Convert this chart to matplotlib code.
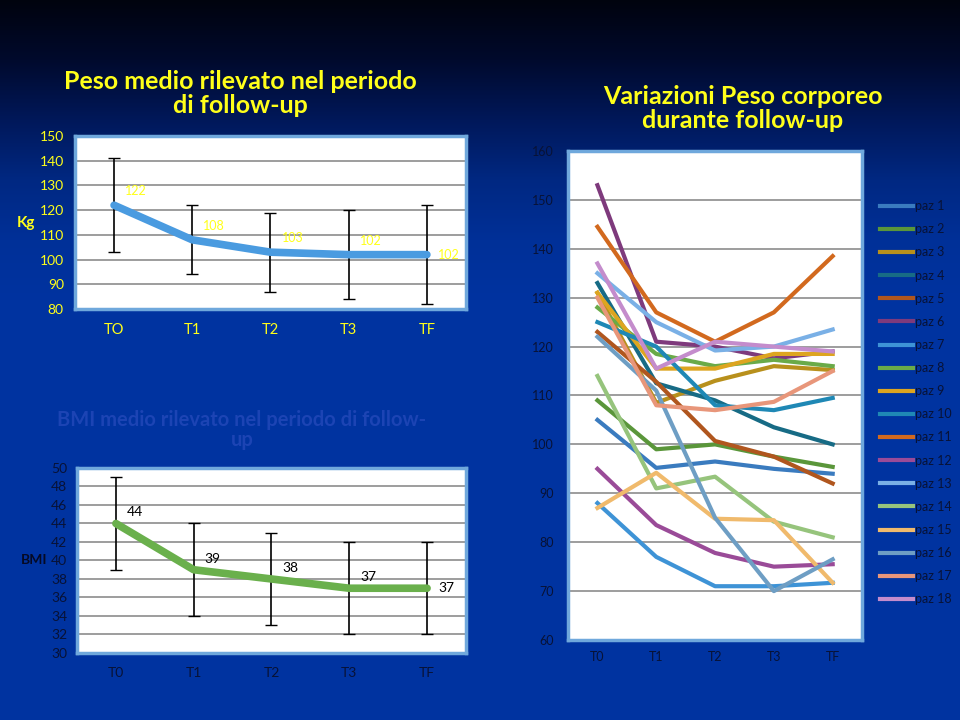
import numpy as np
import matplotlib.pyplot as plt

plt.rcParams['font.family'] = ['Lato', 'DejaVu Sans']

# ---- data ----
tempi_peso = ['TO', 'T1', 'T2', 'T3', 'TF']
tempi = ['T0', 'T1', 'T2', 'T3', 'TF']

peso_medio = [122, 108, 103, 102, 102]
peso_ds = [19, 14, 16, 18, 20]

bmi_medio = [44, 39, 38, 37, 37]
bmi_ds = [5, 5, 5, 5, 5]

paz_1 = [105, 95.2, 96.5, 95, 94]
paz_2 = [109, 99, 100, 97.5, 95.4]
paz_3 = [131, 108.5, 113, 116, 115.2]
paz_4 = [133, 112.5, 109, 103.5, 100]
paz_5 = [123, 112.8, 100.7, 97.5, 92]
paz_6 = [153, 121, 120, 117.6, 119]
paz_7 = [88, 77, 71, 71, 71.7]
paz_8 = [128, 118.5, 116, 117.3, 116]
paz_9 = [131, 115.5, 115.5, 118.5, 118.5]
paz_10 = [125, 120, 108, 107, 109.5]
paz_11 = [144.5, 127, 121, 127, 138.5]
paz_12 = [95, 83.5, 77.8, 75, 75.5]
paz_13 = [135, 125, 119.2, 120, 123.5]
paz_14 = [114, 91, 93.4, 84.2, 81]
paz_15 = [87, 94.2, 84.8, 84.5, 71.7]
paz_16 = [122, 111, 85, 70, 76.5]
paz_17 = [130, 108, 107, 108.7, 115]
paz_18 = [137, 115.5, 121, 120, 119]

pazienti = [paz_1, paz_2, paz_3, paz_4, paz_5, paz_6, paz_7, paz_8, paz_9,
            paz_10, paz_11, paz_12, paz_13, paz_14, paz_15, paz_16, paz_17, paz_18]
nomi = ['paz %d' % (i + 1) for i in range(len(pazienti))]
colori = ['#3A7BBF', '#5A963A', '#B8901C', '#176B85', '#B0561E', '#7E3A7C',
          '#3E93D6', '#6AAA48', '#DDA520', '#1F88B5', '#D2691E', '#9A4B98',
          '#7AB0E6', '#96C47C', '#F0BA6C', '#6E9EC4', '#E8967A', '#C48CCC']

YELLOW = '#FFFF1A'
NAVY = '#081236'
BORDER = '#6FA8DC'

fig = plt.figure(figsize=(9.6, 7.2), dpi=100)

# background gradient
bg = fig.add_axes([0, 0, 1, 1], zorder=-10)
yy = np.arange(720)
stops = [0, 60, 120, 180, 240, 300, 720]
rgb = np.stack([np.interp(yy, stops, [0, 0, 0, 0, 0, 0, 0]),
                np.interp(yy, stops, [3, 10, 24, 40, 48, 51, 51]),
                np.interp(yy, stops, [14, 45, 90, 130, 152, 160, 160])], axis=1) / 255.0
bg.imshow(rgb[:, None, :], aspect='auto', extent=[0, 1, 0, 1])
bg.axis('off')


def style_axes(ax, tick_color):
    ax.set_facecolor('white')
    for s in ax.spines.values():
        s.set_color(BORDER)
        s.set_linewidth(2.5)
    ax.tick_params(length=0, colors=tick_color, labelsize=10)
    ax.yaxis.grid(True, color='#8C8C8C', lw=1.2)
    ax.set_axisbelow(True)


# ---- peso medio ----
ax1 = fig.add_axes([0.0781, 0.5708, 0.4073, 0.2403])
style_axes(ax1, YELLOW)
x = np.arange(len(tempi_peso))
ax1.errorbar(x, peso_medio, yerr=peso_ds, fmt='none', ecolor='black', elinewidth=1.2, capsize=4)
ax1.plot(x, peso_medio, color='#4A9BE0', lw=5.5, solid_capstyle='round')
for i, v in enumerate(peso_medio):
    off = (8, 0) if i == len(peso_medio) - 1 else (8, 10)
    ax1.annotate(str(v), (x[i], v), xytext=off, textcoords='offset points',
                 color=YELLOW, fontsize=9, va='center', ha='left')
ax1.set_xlim(-0.5, 4.5)
ax1.set_ylim(80, 150)
ax1.set_yticks(range(80, 151, 10))
ax1.set_xticks(x)
ax1.set_xticklabels(tempi_peso, fontsize=10.5)
ax1.tick_params(axis='x', pad=10)
ax1.tick_params(axis='y', pad=8)
ax1.set_ylabel('Kg', color=YELLOW, fontweight='bold', rotation=0, fontsize=11, labelpad=10, va='center')
fig.text(0.25, 0.870, 'Peso medio rilevato nel periodo\ndi follow-up', color=YELLOW,
         fontsize=18, fontweight='bold', ha='center', va='center', linespacing=1.05)

# ---- BMI medio ----
ax2 = fig.add_axes([0.0802, 0.0931, 0.4052, 0.2569])
style_axes(ax2, NAVY)
ax2.errorbar(x, bmi_medio, yerr=bmi_ds, fmt='none', ecolor='black', elinewidth=1.2, capsize=4)
ax2.plot(x, bmi_medio, color='#6AB04C', lw=5.5, solid_capstyle='round')
for i, v in enumerate(bmi_medio):
    off = (8, 0) if i == len(bmi_medio) - 1 else (8, 8)
    ax2.annotate(str(v), (x[i], v), xytext=off, textcoords='offset points',
                 color='black', fontsize=10, va='center', ha='left')
ax2.set_xlim(-0.5, 4.5)
ax2.set_ylim(30, 50)
ax2.set_yticks(range(30, 51, 2))
ax2.set_xticks(x)
ax2.set_xticklabels(tempi, fontsize=10)
ax2.tick_params(axis='x', pad=10)
ax2.tick_params(axis='y', pad=7)
ax2.set_ylabel('BMI', color='#050A25', fontweight='bold', rotation=0, fontsize=10, labelpad=12, va='center')
fig.text(0.252, 0.403, 'BMI medio rilevato nel periodo di follow-\nup', color='#1C44B4',
         fontsize=14.5, fontweight='bold', ha='center', va='center', linespacing=1.0)

# ---- variazioni peso ----
ax3 = fig.add_axes([0.5917, 0.1111, 0.3063, 0.6792])
style_axes(ax3, NAVY)
for serie, nome, c in zip(pazienti, nomi, colori):
    ax3.plot(x, serie, color=c, lw=3, label=nome)
ax3.set_xlim(-0.5, 4.5)
ax3.set_ylim(60, 160)
ax3.set_yticks(range(60, 161, 10))
ax3.set_xticks(x)
ax3.set_xticklabels(tempi, fontsize=10)
ax3.tick_params(axis='both', labelsize=9)
ax3.tick_params(axis='x', pad=8)
ax3.tick_params(axis='y', pad=10)
fig.text(0.774, 0.849, 'Variazioni Peso corporeo\ndurante follow-up', color=YELLOW,
         fontsize=18, fontweight='bold', ha='center', va='center', linespacing=1.05)

ax3.legend(loc='upper left', bbox_to_anchor=(0.917, 0.722), bbox_transform=fig.transFigure,
           frameon=False, fontsize=9, labelcolor=NAVY, handlelength=2.6, handletextpad=0.2,
           labelspacing=0.89, borderpad=0, borderaxespad=0)

fig.savefig('out.png', dpi=100)
